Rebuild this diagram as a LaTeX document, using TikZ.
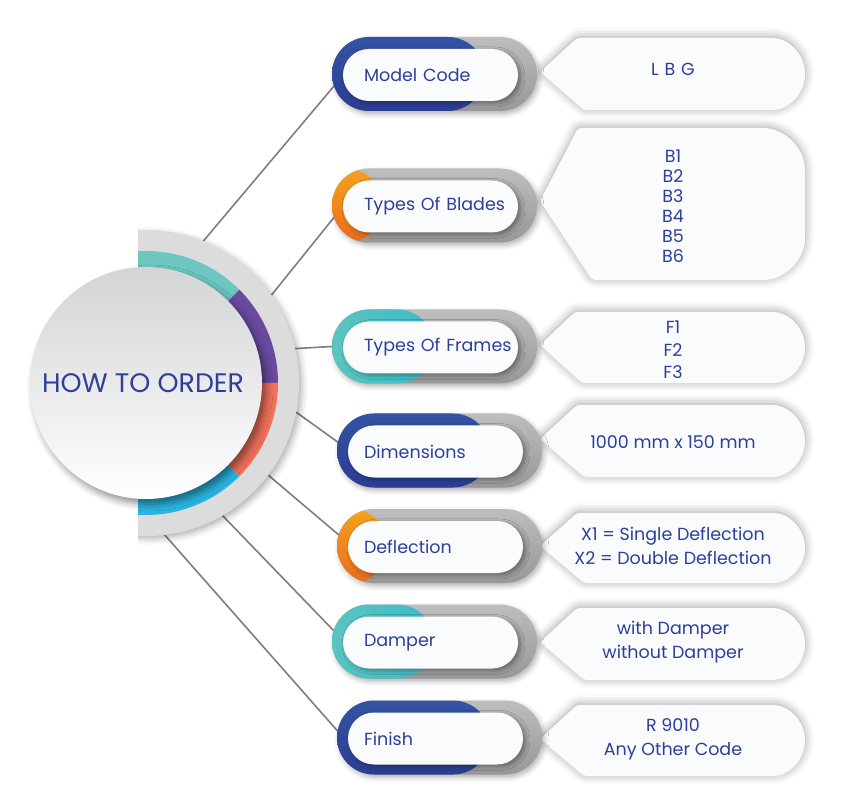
\documentclass[tikz,border=0pt]{standalone}
\usepackage{fontspec}
\setmainfont{Poppins}
\usetikzlibrary{shapes,calc,positioning,shadows.blur}
\definecolor{txtblue}{HTML}{2D3F9A}
\definecolor{pillgray}{HTML}{A8A7A9}
\definecolor{linegray}{HTML}{7E7E7E}
\definecolor{backgray}{HTML}{DCDCDD}
\definecolor{hubtop}{HTML}{D3D4D6}
\definecolor{tagfill}{HTML}{FAFBFC}
\definecolor{ringteal}{HTML}{6EC6C1}
\definecolor{ringpurple}{HTML}{6A4AA0}
\definecolor{ringred}{HTML}{F0705A}
\definecolor{ringcyan}{HTML}{2AB6E2}
\definecolor{bluetop}{HTML}{3453A3}
\definecolor{bluebot}{HTML}{2B3D91}
\definecolor{orangetop}{HTML}{F6A21F}
\definecolor{orangebot}{HTML}{E76B1C}
\definecolor{tealleft}{HTML}{5BC4BF}
\definecolor{tealright}{HTML}{1CB1D2}
\pgfdeclarelayer{background}
\pgfsetlayers{background,main}
\tikzset{
    bluegrad/.style={top color=bluetop, bottom color=bluebot},
    orangegrad/.style={top color=orangetop, bottom color=orangebot},
    tealgrad/.style={left color=tealleft, right color=tealright},
    pill/.style 2 args={rectangle, rounded corners=37pt, minimum width=205pt,
        minimum height=74pt, inner sep=0pt, outer sep=0pt,
        top color=pillgray!75!white, bottom color=pillgray!90!black,
        blur shadow={shadow xshift=2pt, shadow yshift=-3pt, shadow blur radius=5pt, shadow opacity=30},
        path picture={\shade[#1] (path picture bounding box.south west)
            rectangle ([xshift=#2]path picture bounding box.north west);}},
    lbl/.style={rectangle, rounded corners=26pt, minimum width=175pt, minimum height=52pt,
        text width=170pt, inner sep=0pt, align=left, fill=tagfill,
        text=txtblue, font=\fontsize{17.5}{21}\selectfont,
        execute at begin node={\hspace*{#1}\hbox\bgroup}, execute at end node={\egroup},
        blur shadow={shadow xshift=3pt, shadow yshift=-2pt, shadow blur radius=4pt, shadow opacity=35}},
    lbl/.default=18.5pt,
    tagbox/.style={fill=tagfill, rounded corners=3pt,
        blur shadow={shadow xshift=0pt, shadow yshift=1pt, shadow blur radius=9pt, shadow opacity=38}},
    val/.style={text=txtblue, align=center, font=\fontsize{17.5}{24}\selectfont},
    backdisc/.style={circle, minimum size=306pt, inner sep=0pt, outer sep=0pt, fill=backgray,
        blur shadow={shadow xshift=3pt, shadow yshift=-3pt, shadow blur radius=6pt, shadow opacity=30}},
    hub/.style={circle, minimum size=232pt, inner sep=0pt, top color=hubtop, bottom color=white,
        text=txtblue, font=\fontsize{26.8}{30}\selectfont,
        blur shadow={shadow xshift=4pt, shadow yshift=-5pt, shadow blur radius=7pt, shadow opacity=45}},
    link/.style={draw=linegray, line width=1.6pt, shorten >=-6pt}
}
\begin{document}
\begin{tikzpicture}[x=1pt,y=1pt]
\useasboundingbox (0,0) rectangle (848,804);

% value tags
\path[tagbox] (540,732) -- (577,766) -- (769,766) arc[start angle=90,end angle=-90,radius=36] -- (584,694) -- cycle;
\path[tagbox] (540,603) -- (578,676) -- (760,676) arc[start angle=90,end angle=0,radius=45]
    -- (805,569) arc[start angle=0,end angle=-90,radius=45] -- (592,524) -- cycle;
\path[tagbox] (540,459) -- (575,492) -- (769.5,492) arc[start angle=90,end angle=-90,radius=35.5] -- (582,421) -- cycle;
\path[tagbox] (540,365) -- (577,399) -- (769,399) arc[start angle=90,end angle=-90,radius=36] -- (584,327) -- cycle;
\path[tagbox] (540,258) -- (577,291) -- (770,291) arc[start angle=90,end angle=-90,radius=35] -- (584,221) -- cycle;
\path[tagbox] (540,162) -- (577,196) -- (769,196) arc[start angle=90,end angle=-90,radius=36] -- (584,124) -- cycle;
\path[tagbox] (540,65) -- (577,99) -- (769.5,99) arc[start angle=90,end angle=-90,radius=35.5] -- (584,28) -- cycle;

\node[val] (modelval) at (673,735) {L\,\,B\,\,G};
\node[val, font=\fontsize{17.5}{20}\selectfont] (bladesval) at (673,598) {B1\\B2\\B3\\B4\\B5\\B6};
\node[val, font=\fontsize{17.5}{22.5}\selectfont] (framesval) at (673,454) {F1\\F2\\F3};
\node[val] (dimsval) at (673,362) {1000 mm x 150 mm};
\node[val] (deflval) at (673,258) {X1 = Single Deflection\\X2 = Double Deflection};
\node[val] (damperval) at (673,162) {with Damper\\without Damper};
\node[val] (finishval) at (673,65) {R 9010\\Any Other Code};

% pills
\node[pill={bluegrad}{153pt}] (model) at (434.5,730) {};
\node[lbl] (modellbl) at ([xshift=-4pt,yshift=-1pt]model.center) {Model Code};
\node[pill={orangegrad}{51pt}] (blades) at (434.5,598.5) {};
\node[lbl] (bladeslbl) at ([xshift=-4pt,yshift=-1pt]blades.center) {Types Of Blades};
\node[pill={tealgrad}{102pt}] (frames) at (434.5,457.5) {};
\node[lbl] (frameslbl) at ([xshift=-4pt,yshift=-1pt]frames.center) {Types Of Frames};
\node[pill={bluegrad}{153pt}] (dims) at (439.5,353.5) {};
\node[lbl=13.5pt] (dimslbl) at ([xshift=-4pt,yshift=-1pt]dims.center) {Dimensions};
\node[pill={orangegrad}{51pt}] (defl) at (439.5,258) {};
\node[lbl=13.5pt] (defllbl) at ([xshift=-4pt,yshift=-1pt]defl.center) {Deflection};
\node[pill={tealgrad}{102pt}] (damper) at (434.5,162.5) {};
\node[lbl] (damperlbl) at ([xshift=-4pt,yshift=-1pt]damper.center) {Damper};
\node[pill={bluegrad}{153pt}] (finish) at (439.5,66.5) {};
\node[lbl=13.5pt] (finishlbl) at ([xshift=-4pt,yshift=-1pt]finish.center) {Finish};

% half disc with coloured ring
\begin{scope}
\clip (138,0) rectangle (848,804);
\node[backdisc] (back) at (146,421) {};
\fill[ringteal] (back.center) -- ++(45:132) arc[start angle=45,end angle=100,radius=132] -- cycle;
\fill[ringpurple] (back.center) -- ++(0:132) arc[start angle=0,end angle=45,radius=132] -- cycle;
\fill[ringred] (back.center) -- ++(-45:132) arc[start angle=-45,end angle=0,radius=132] -- cycle;
\fill[ringcyan] (back.center) -- ++(-100:132) arc[start angle=-100,end angle=-45,radius=132] -- cycle;
\end{scope}
\node[hub] (hub) at (146,421) {HOW TO ORDER\hspace*{6pt}};

% connectors
\begin{pgfonlayer}{background}
\draw[link] (back.68) -- (model.188);
\draw[link] (back.35) -- (blades.188);
\draw[link] (back.13) -- (frames.180);
\draw[link] (back.-11) -- (dims.175);
\draw[link] (back.-37) -- (defl.173);
\draw[link] (back.-60) -- (damper.173);
\draw[link] (back.-83) -- (finish.176);
\end{pgfonlayer}
\end{tikzpicture}
\end{document}
